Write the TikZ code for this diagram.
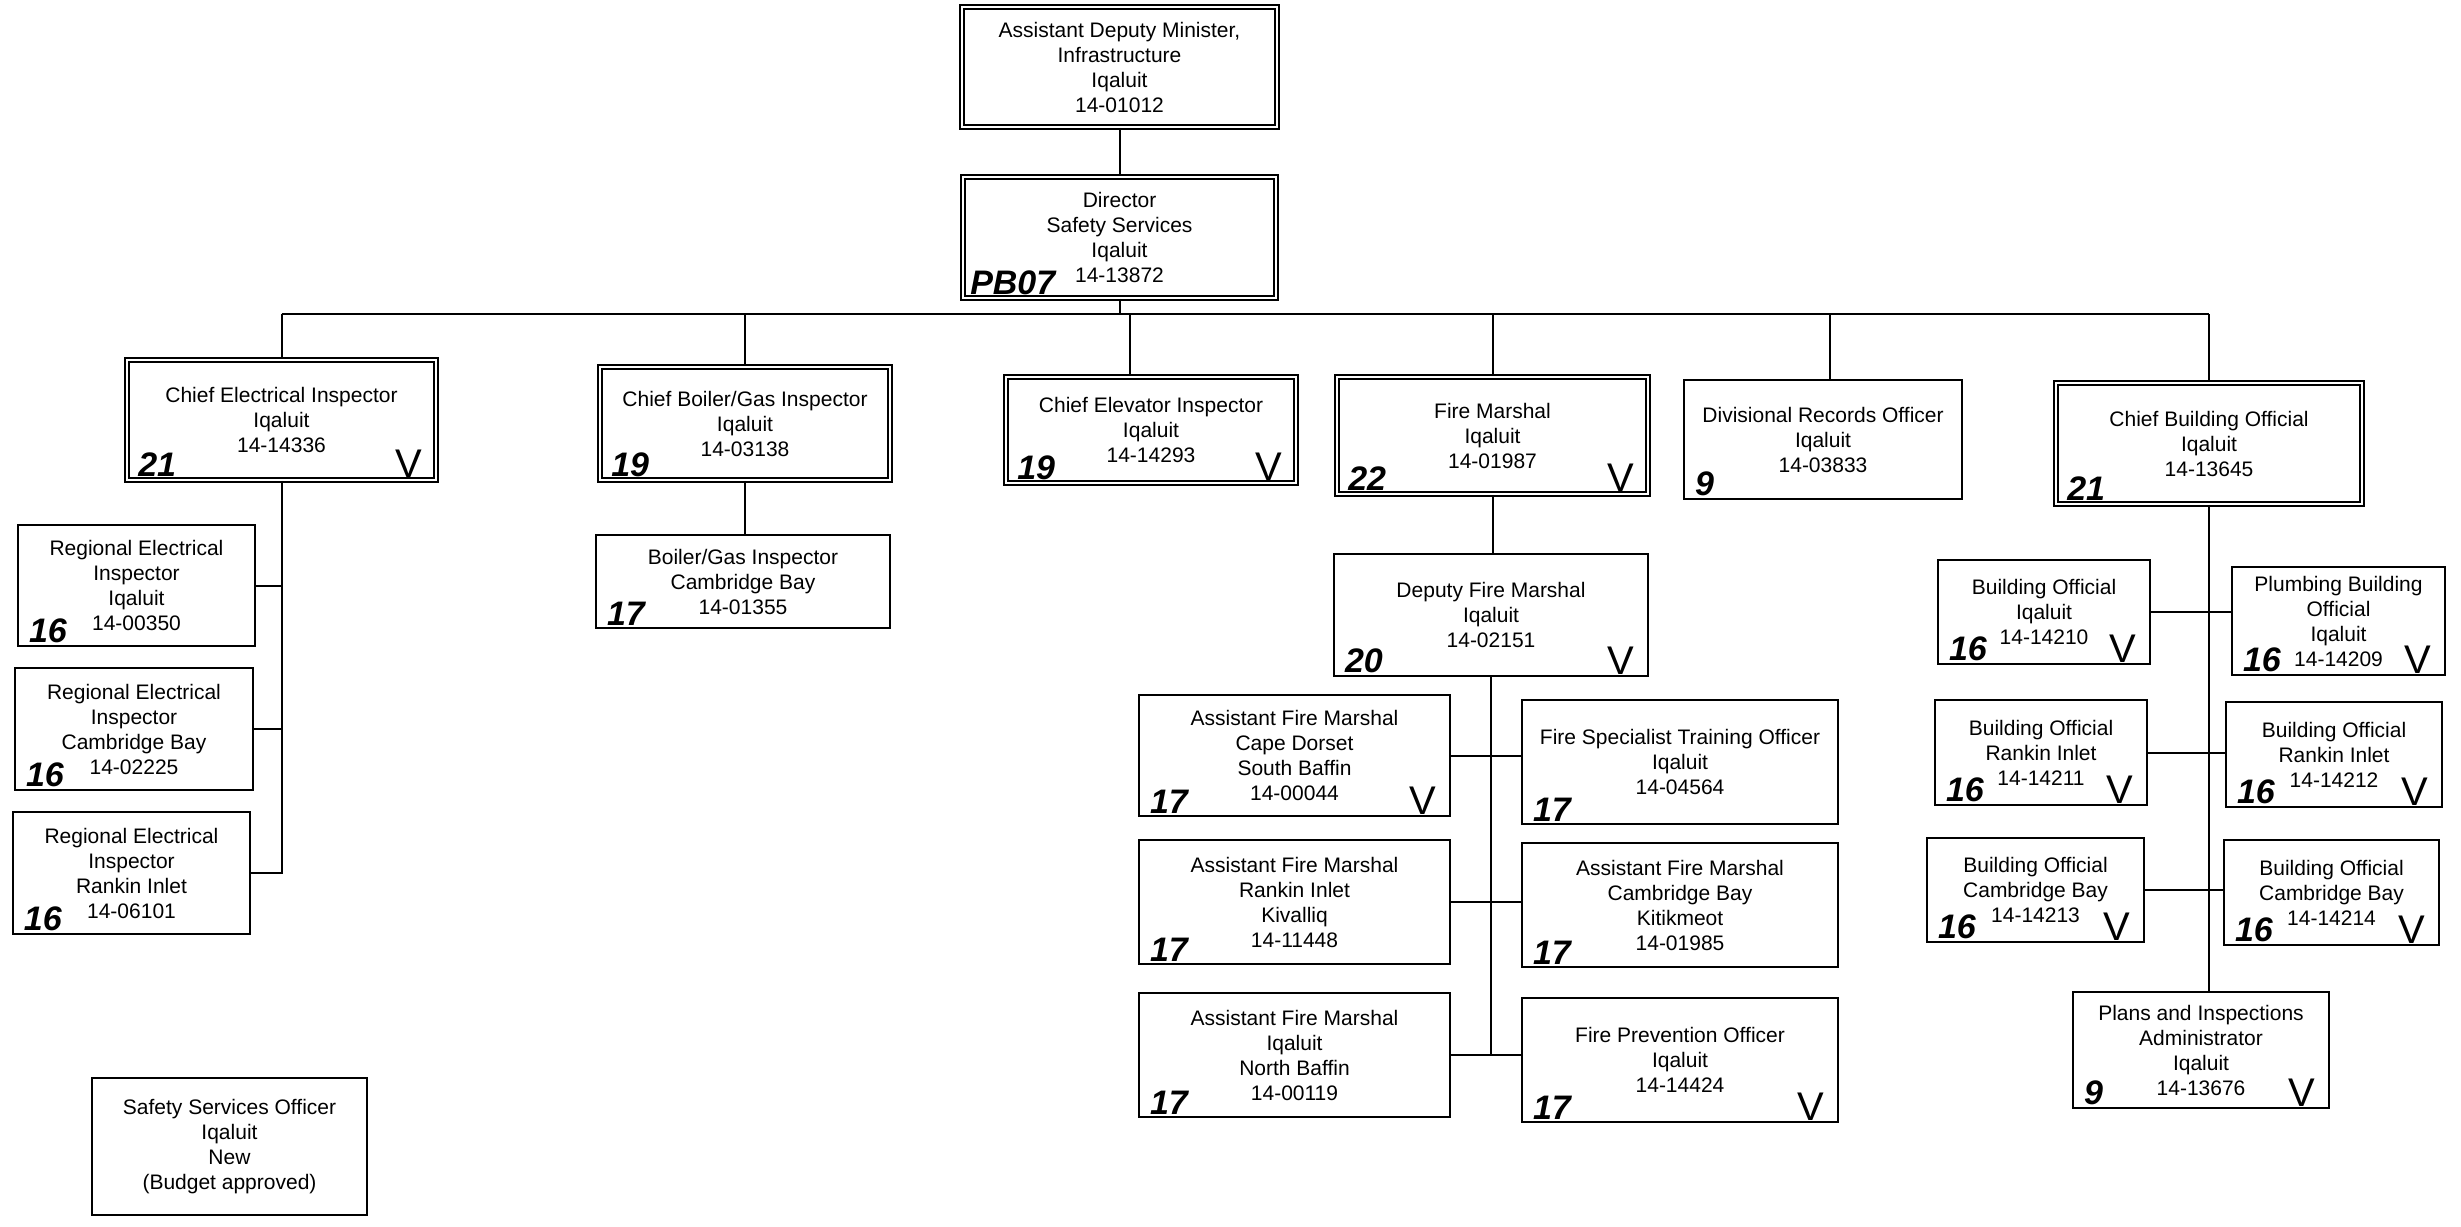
\documentclass[tikz,border=0pt]{standalone}
\usepackage{fontspec}
\setmainfont{Liberation Sans}

\begin{document}
\begin{tikzpicture}[x=0.5pt, y=-0.5pt, line width=1pt,
    post/.style={draw, align=center, inner sep=0pt, font=\fontsize{10.5}{12.5}\selectfont},
    head/.style={post, double, double distance=1.3pt, line width=0.75pt},
    sz/.style 2 args={minimum width=#1*0.5pt, minimum height=#2*0.5pt},
    grade/.style={anchor=south west, inner sep=1.5pt, xshift=4pt, font=\fontsize{17}{17}\selectfont\bfseries\itshape},
    tick/.style={anchor=south east, inner sep=1pt, xshift=-6pt, font=\fontsize{20}{20}\selectfont}]
    \useasboundingbox (0,0) rectangle (2461,1226);

    \node[head, sz={315}{120}] (adm) at (1119.5,67) {Assistant Deputy Minister,\\Infrastructure\\Iqaluit\\14-01012};
    \node[head, sz={313}{121}] (dir) at (1119.5,237.5) {Director\\Safety Services\\Iqaluit\\14-13872};

    \node[head, sz={309}{120}] (cei) at (281.5,420) {Chief Electrical Inspector\\Iqaluit\\14-14336};
    \node[head, sz={290}{113}] (cbg) at (745,423.5) {Chief Boiler/Gas Inspector\\Iqaluit\\14-03138};
    \node[head, sz={290}{106}] (cev) at (1151,430) {Chief Elevator Inspector\\Iqaluit\\14-14293};
    \node[head, sz={311}{117}] (fm) at (1492.5,435.5) {Fire Marshal\\Iqaluit\\14-01987};
    \node[post, sz={278}{119}] (dro) at (1823,439.5) {Divisional Records Officer\\Iqaluit\\14-03833};
    \node[head, sz={306}{121}] (cbo) at (2209,443.5) {Chief Building Official\\Iqaluit\\14-13645};

    \node[post, sz={237}{121}] (rei1) at (136.5,585.5) {Regional Electrical\\Inspector\\Iqaluit\\14-00350};
    \node[post, sz={238}{122}] (rei2) at (134,729) {Regional Electrical\\Inspector\\Cambridge Bay\\14-02225};
    \node[post, sz={237}{122}] (rei3) at (131.5,873) {Regional Electrical\\Inspector\\Rankin Inlet\\14-06101};

    \node[post, sz={294}{93}] (bgi) at (743,581.5) {Boiler/Gas Inspector\\Cambridge Bay\\14-01355};

    \node[post, sz={314}{122}] (dfm) at (1491,615) {Deputy Fire Marshal\\Iqaluit\\14-02151};
    \node[post, sz={311}{121}] (afm1) at (1294.5,755.5) {Assistant Fire Marshal\\Cape Dorset\\South Baffin\\14-00044};
    \node[post, sz={316}{124}] (fsto) at (1680,762) {Fire Specialist Training Officer\\Iqaluit\\14-04564};
    \node[post, sz={311}{124}] (afm2) at (1294.5,902) {Assistant Fire Marshal\\Rankin Inlet\\Kivalliq\\14-11448};
    \node[post, sz={316}{124}] (afm3) at (1680,905) {Assistant Fire Marshal\\Cambridge Bay\\Kitikmeot\\14-01985};
    \node[post, sz={311}{124}] (afm4) at (1294.5,1055) {Assistant Fire Marshal\\Iqaluit\\North Baffin\\14-00119};
    \node[post, sz={316}{124}] (fpo) at (1680,1060) {Fire Prevention Officer\\Iqaluit\\14-14424};

    \node[post, sz={212}{104}] (bo1) at (2044,612) {Building Official\\Iqaluit\\14-14210};
    \node[post, sz={213}{108}] (pbo) at (2338.5,621) {Plumbing Building\\Official\\Iqaluit\\14-14209};
    \node[post, sz={212}{105}] (bo2) at (2041,752.5) {Building Official\\Rankin Inlet\\14-14211};
    \node[post, sz={216}{105}] (bo3) at (2334,754.5) {Building Official\\Rankin Inlet\\14-14212};
    \node[post, sz={217}{104}] (bo4) at (2035.5,890) {Building Official\\Cambridge Bay\\14-14213};
    \node[post, sz={215}{105}] (bo5) at (2331.5,892.5) {Building Official\\Cambridge Bay\\14-14214};
    \node[post, sz={256}{116}] (pia) at (2201,1050) {Plans and Inspections\\Administrator\\Iqaluit\\14-13676};

    \node[post, sz={275}{137}] (sso) at (229.5,1146.5) {Safety Services Officer\\Iqaluit\\New\\(Budget approved)};

    \coordinate (b1) at (281.5,314);
    \coordinate (b2) at (745,314);
    \coordinate (b3) at (1130,314);
    \coordinate (b4) at (1492.5,314);
    \coordinate (b5) at (1830,314);
    \coordinate (b6) at (2209,314);

    \draw (adm) -- (dir);
    \draw (dir.south) -- (dir.south |- b1);
    \draw (b1) -- (b6);
    \foreach \b/\n in {b1/cei, b2/cbg, b3/cev, b4/fm, b5/dro, b6/cbo}{\draw (\b) -- (\b |- \n.north);}

    \draw (cei.south) |- (rei3.east);
    \foreach \n in {rei1, rei2}{\draw (\n.east) -- (\n.east -| cei.south);}
    \draw (cbg.south) -- (cbg.south |- bgi.north);

    \draw (fm.south) -- (fm.south |- dfm.north);
    \draw (dfm.south) -- (dfm.south |- afm4.east);
    \foreach \l/\r in {afm1/fsto, afm2/afm3, afm4/fpo}{\draw (\l.east) -- (\l.east -| \r.west);}

    \draw (cbo.south) -- (cbo.south |- pia.north);
    \foreach \l/\r in {bo1/pbo, bo2/bo3, bo4/bo5}{\draw (\l.east) -- (\l.east -| \r.west);}

    \node[grade, xshift=-2pt] at (dir.south west) {PB07};
    \foreach \n/\g in {cei/21, cbg/19, cev/19, fm/22, dro/9, cbo/21, rei1/16, rei2/16, rei3/16, bgi/17, dfm/20,
        afm1/17, fsto/17, afm2/17, afm3/17, afm4/17, fpo/17, bo1/16, pbo/16, bo2/16, bo3/16, bo4/16, bo5/16, pia/9}
        {\node[grade] at (\n.south west) {\g};}
    \foreach \n in {cei, cev, fm, dfm, afm1, fpo, bo1, pbo, bo2, bo3, bo4, bo5, pia}
        {\node[tick] at (\n.south east) {V};}
\end{tikzpicture}
\end{document}
